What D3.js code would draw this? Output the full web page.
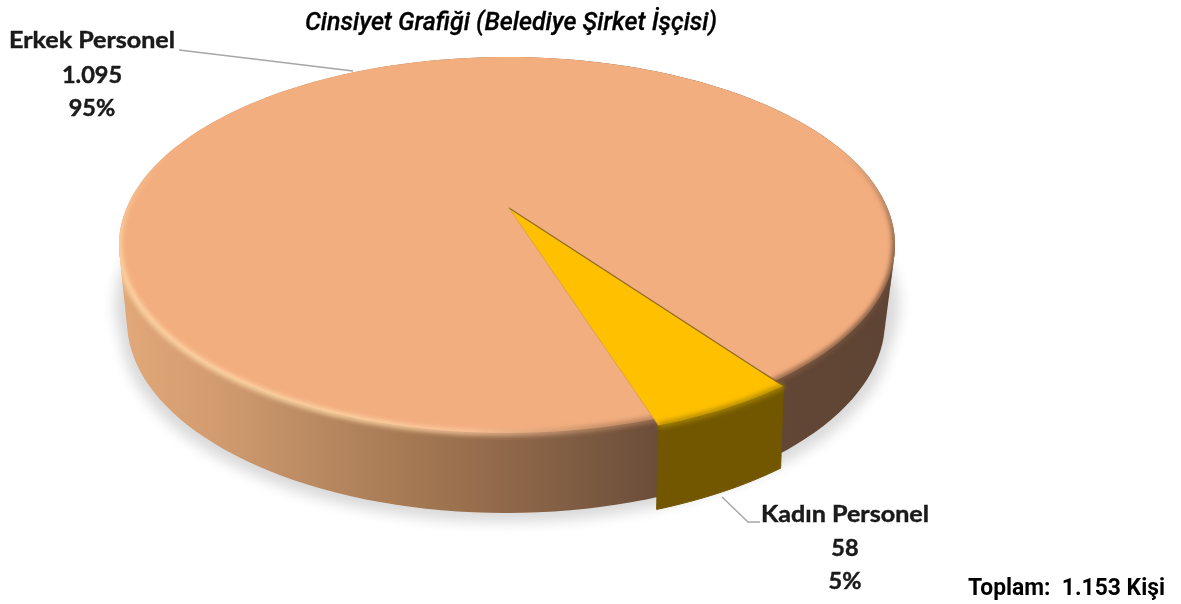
<!DOCTYPE html>
<html><head><meta charset="utf-8">
<script src="https://cdn.jsdelivr.net/npm/d3@7/dist/d3.min.js"></script>
<style>html,body{margin:0;background:#fff;overflow:hidden}svg{display:block}</style>
</head><body><svg id="c" width="1181" height="604"></svg>
<script>
const categories = ["Erkek Personel", "Kadın Personel"];
const values = [1095, 58];
const percentLabels = ["95%", "5%"];
const titleText = "Cinsiyet Grafiği (Belediye Şirket İşçisi)";
const totalPrefix = "Toplam:  ";
const totalSuffix = " Kişi";
const topColors = ["#f3ae7f", "#ffc000"];
const wallStops = [[0,"#e2a878"],[0.12,"#d29c70"],[0.25,"#ba8a62"],[0.38,"#a47852"],[0.5,"#90684a"],[0.62,"#785840"],[0.72,"#664937"],[1,"#5e4434"]];

const svg = d3.select("#c");
const defs = svg.append("defs");
const fmt = d3.formatLocale({decimal:",",thousands:".",grouping:[3],currency:["",""]}).format(",d");

// Perspective projection of the pie disc
const K = 0.197;
const topE = {cx:507, cy:245, rx:388, ry:188};
const botE = {cx:506, cy:321, rx:379, ry:192};
function proj(E, th, r=1){
  const u = r*Math.sin(th), v = -r*Math.cos(th), w = 1 - K*v, s = Math.sqrt(1-K*K);
  return [E.cx + E.rx*s*u/w, (E.cy - E.ry*K) + E.ry*(1-K*K)*v/w];
}
const ring = (E, r=1) => d3.range(0, 360, 2).map(d => proj(E, d*Math.PI/180, r));
const START = 161.7*Math.PI/180;
const pie = d3.pie().sort(null).startAngle(START).endAngle(START+2*Math.PI);
const arcs = pie(values);
const line = d3.line();
const closed = pts => line(pts) + "Z";
const arcPts = (E, a, r=1, step=0.02) => {
  const ang = d3.range(a.startAngle, a.endAngle, step).concat([a.endAngle]);
  return ang.map(t => proj(E, t, r));
};

// defs
const blur = (id, s) => defs.append("filter").attr("id",id).attr("x","-10%").attr("y","-10%").attr("width","120%").attr("height","120%")
  .append("feGaussianBlur").attr("stdDeviation",s);
blur("b8",7); blur("b2",2.4); blur("t",0.4);
const wg = defs.append("linearGradient").attr("id","wall").attr("gradientUnits","userSpaceOnUse")
  .attr("x1",120).attr("x2",895).attr("y1",0).attr("y2",0);
wallStops.forEach(s => wg.append("stop").attr("offset",s[0]).attr("stop-color",s[1]));
const rim = defs.append("linearGradient").attr("id","rim").attr("gradientUnits","userSpaceOnUse")
  .attr("x1",120).attr("x2",895).attr("y1",0).attr("y2",0);
[[0,"#ffd9a8"],[0.3,"#ffd9a8"],[0.45,"#f9c69c"],[0.62,"#b88560"],[0.8,"#8d6247"],[1,"#6a4c38"]]
  .forEach(s => rim.append("stop").attr("offset",s[0]).attr("stop-color",s[1]));
const fade = defs.append("linearGradient").attr("id","fade").attr("gradientUnits","userSpaceOnUse")
  .attr("x1",0).attr("x2",0).attr("y1",150).attr("y2",250);
fade.append("stop").attr("offset",0).attr("stop-color","#000");
fade.append("stop").attr("offset",1).attr("stop-color","#fff");
defs.append("mask").attr("id","rimMask").attr("maskUnits","userSpaceOnUse").attr("x",0).attr("y",0).attr("width",1181).attr("height",604)
  .append("rect").attr("width",1181).attr("height",604).attr("fill","url(#fade)");
const topPath = closed(ring(topE));
const hullPath = closed(d3.polygonHull(ring(topE).concat(ring(botE))));
defs.append("clipPath").attr("id","hullClip").append("path").attr("d",hullPath);

// shadow
const shadowPts = d3.polygonHull(ring({...botE, cy:botE.cy+9, rx:botE.rx+6}).concat(ring({...topE, cy:topE.cy+60, rx:topE.rx+4})));
svg.append("path").attr("d",closed(shadowPts)).attr("fill","#000").attr("opacity",0.15).attr("filter","url(#b8)");

// wall of the large slice
svg.append("path").attr("d",hullPath).attr("fill","url(#wall)");

// top face of the large slice with bevelled rim
svg.append("path").attr("d",topPath).attr("fill",topColors[0]);
svg.append("g").attr("clip-path","url(#hullClip)").append("g").attr("mask","url(#rimMask)").append("path").attr("d",topPath)
  .attr("fill","none").attr("stroke","url(#rim)").attr("stroke-width",5).attr("filter","url(#b2)");

// small slice
const k = arcs[1];
const apex = proj({...topE, cx:topE.cx+2}, 0, 0);
const R1 = 1.025, R2 = 1.04;
const botW = {...botE};
const wedgeWall = d3.polygonHull(arcPts(topE,k,R1).concat(arcPts(botW,k,R2)));
const wedgeTop = [apex].concat(arcPts(topE,k,R1));
svg.append("path").attr("d",closed(wedgeWall)).attr("fill","#725700").attr("stroke","#725700").attr("stroke-width",1);
svg.append("path").attr("d",closed(wedgeTop)).attr("fill",topColors[1]);
svg.append("path").attr("d",line([apex, arcPts(topE,k,R1)[0]])).attr("stroke","#7a5a20").attr("stroke-width",1.3).attr("fill","none").attr("opacity",.8);
svg.append("path").attr("d",line([apex, arcPts(topE,k,R1).slice(-1)[0]])).attr("stroke","#c99a50").attr("stroke-width",1).attr("fill","none").attr("opacity",.7);
svg.append("path").attr("d",line(arcPts(topE,k,R1))).attr("fill","none").attr("stroke","#a98500").attr("stroke-width",5).attr("filter","url(#b2)");

// leader lines
const leader = [[[179,50],[353,71]],[[722,497],[748,522],[760,522]]];
svg.selectAll("path.leader").data(leader).join("path").attr("class","leader")
  .attr("d",d=>line(d)).attr("fill","none").attr("stroke","#a6a6a6").attr("stroke-width",1.4);

// labels
const lab = svg.append("g").attr("filter","url(#t)").attr("fill","#1a1a1a").attr("stroke","#1a1a1a").attr("stroke-width",0.45)
  .attr("font-family","Lato").attr("font-weight",700).attr("font-size",23.5).attr("text-anchor","middle");
const labelAnchors = [{x:92,y:[48,83,116],w:166},{x:845,y:[522,556,589],w:168}];
categories.forEach((c,i)=>{
  const t=[c, fmt(values[i]), percentLabels[i]];
  t.forEach((s,j)=>{
    const e=lab.append("text").attr("x",labelAnchors[i].x).attr("y",labelAnchors[i].y[j]).text(s);
    if(j===0) e.attr("textLength",labelAnchors[i].w).attr("lengthAdjust","spacingAndGlyphs");
  });
});
svg.append("text").attr("x",305).attr("y",30).attr("font-family","Roboto").attr("font-style","italic").attr("font-weight",500)
  .attr("font-size",25).attr("fill","#000").attr("stroke","#000").attr("stroke-width",0.3).attr("filter","url(#t)").attr("textLength",412).attr("lengthAdjust","spacingAndGlyphs").text(titleText);
svg.append("text").attr("x",968).attr("y",595).attr("font-family","Roboto").attr("font-weight",700)
  .attr("font-size",24).attr("fill","#000").attr("filter","url(#t)").style("white-space","pre")
  .attr("textLength",197).attr("lengthAdjust","spacingAndGlyphs")
  .text(totalPrefix+fmt(d3.sum(values))+totalSuffix);
</script></body></html>
